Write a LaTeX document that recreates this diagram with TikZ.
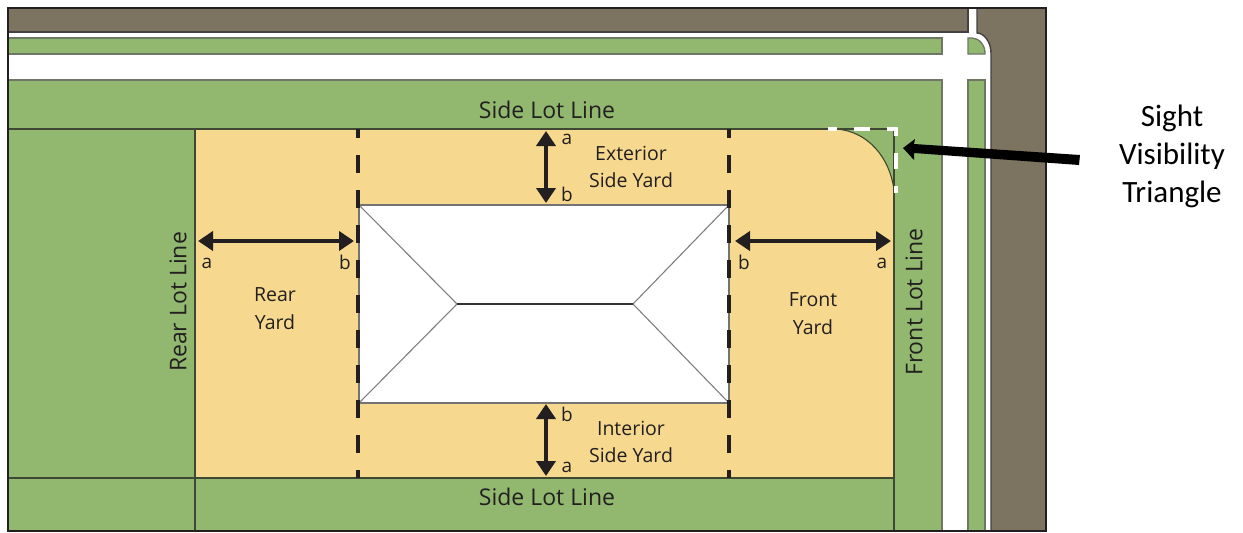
\documentclass[tikz,border=0pt]{standalone}
\usepackage{fontspec}
\setmainfont{Open Sans}
\newfontfamily\callout{Carlito}
\usetikzlibrary{arrows.meta}
\definecolor{lawn}{RGB}{145,184,110}
\definecolor{yard}{RGB}{246,217,142}
\definecolor{pave}{RGB}{124,116,97}
\definecolor{edge}{RGB}{62,72,50}
\definecolor{ink}{RGB}{35,31,32}
\tikzset{
  lawnbox/.style={fill=lawn,draw=edge!75,line width=1.3pt},
  lotline/.style={draw=edge,line width=1.2pt},
  setback/.style={draw=ink,line width=4pt,dash pattern=on 18pt off 17pt,dash phase=9pt},
  dim/.style={draw=ink,line width=4pt,{Triangle[width=19pt,length=15pt]}-{Triangle[width=19pt,length=15pt]},shorten <=0pt,shorten >=0pt},
  roofline/.style={draw=black!50,line width=1.1pt},
  bigtext/.style={font=\fontsize{23}{23}\selectfont,text=ink,inner sep=0pt},
  smalltext/.style={font=\fontsize{19.5}{19.5}\selectfont,text=ink,inner sep=0pt},
  lettertext/.style={font=\fontsize{19}{19}\selectfont,text=ink,inner sep=0pt},
  callouttext/.style={font=\callout\fontsize{31}{31}\selectfont,text=black,inner sep=0pt},
}
\begin{document}
\begin{tikzpicture}[x=1pt,y=-1pt]
\useasboundingbox (0,0) rectangle (1243,533);
\fill[white] (0,0) rectangle (1243,533);
% pavement
\fill[pave] (8,8) rectangle (968,32);
\fill[pave] (977,8) -- (1046,8) -- (1046,531) -- (991,531) -- (991,53) .. controls (991,42) and (984,33) .. (977,33) -- cycle;
\draw[draw=ink!85,line width=1.4pt] (968,8) -- (968,32) -- (8,32);
\draw[draw=ink!85,line width=1.4pt] (977,8) -- (977,33) .. controls (984,33) and (991,42) .. (991,53) -- (991,531);
% lawns
\draw[lawnbox] (8,38) rectangle (942,54);
\draw[lawnbox] (968,54) -- (968,38) -- (972,38) .. controls (979,38) and (985,45) .. (985,53) -- (985,54) -- cycle;
\draw[lawnbox] (8,80) -- (942,80) -- (942,531) -- (8,531) -- cycle;
\draw[lawnbox] (968,531) -- (968,80) -- (985,80) -- (985,531) -- cycle;
% yard
\fill[yard] (195,129) -- (836,129) .. controls (868,131) and (890,158) .. (894,190) -- (894,478) -- (195,478) -- cycle;
% triangle corner
\draw[draw=edge,line width=1.1pt] (836,129) .. controls (868,131) and (890,158) .. (894,190);
% lot lines
\draw[lotline] (8,129) -- (836,129) -- (894,129) -- (894,531);
\draw[lotline] (195,129) -- (195,531);
\draw[lotline] (8,478) -- (894,478);
% frame
\draw[draw=ink,line width=1.3pt] (8,8) rectangle (1046,531);
% white sight triangle dashes
\draw[draw=white,line width=4pt,dash pattern=on 16.5pt off 16.5pt,dash phase=7.5pt] (828,129) -- (896,129) -- (896,193);
% house
\path[fill=white,draw=black!55,line width=1.2pt] (359,205) rectangle (729,403);
\coordinate (rl) at (457,304);
\coordinate (rr) at (633,304);
\draw[roofline] (359,205) -- (rl) -- (359,403);
\draw[roofline] (729,205) -- (rr) -- (729,403);
\draw[draw=black!80,line width=1.1pt] (rl) -- (rr);
% setback lines
\draw[setback] (358,129) -- (358,478);
\draw[setback] (729,129) -- (729,478);
% dimension arrows
\coordinate (ra) at (198,241); \coordinate (rb) at (354,241);
\coordinate (fb) at (735,241); \coordinate (fa) at (891,241);
\coordinate (ea) at (546,131); \coordinate (eb) at (546,203);
\coordinate (ib) at (546,404); \coordinate (ia) at (546,476);
\draw[dim] (ra) -- (rb);
\draw[dim] (fb) -- (fa);
\draw[dim] (ea) -- (eb);
\draw[dim] (ib) -- (ia);
% callout arrow
\fill[black] (903,148) -- (915,139) -- (914,144) -- (1080,155) -- (1079,165) -- (914,153) -- (914,160) -- cycle;
% labels
\node[bigtext] (sl1) at (547,110) {Side Lot Line};
\node[bigtext] (sl2) at (547,497) {Side Lot Line};
\node[bigtext,rotate=90] (rl1) at (178,302) {Rear Lot Line};
\node[bigtext,rotate=90] (fl1) at (914,302) {Front Lot Line};
\node[smalltext] (ry1) at (275,295) {Rear};
\node[smalltext] (ry2) at (275,322) {Yard};
\node[smalltext] (fy1) at (813,300) {Front};
\node[smalltext] (fy2) at (813,327) {Yard};
\node[smalltext] (es1) at (631,153) {Exterior};
\node[smalltext] (es2) at (631,180) {Side Yard};
\node[smalltext] (is1) at (631,428) {Interior};
\node[smalltext] (is2) at (631,455) {Side Yard};
\node[lettertext] (l1) at (567,139) {a};
\node[lettertext] (l2) at (567,194) {b};
\node[lettertext] (l3) at (567,414) {b};
\node[lettertext] (l4) at (567,467) {a};
\node[lettertext] (l5) at (207,263) {a};
\node[lettertext] (l6) at (345,262) {b};
\node[lettertext] (l7) at (744,262) {b};
\node[lettertext] (l8) at (882,263) {a};
\node[callouttext] (c1) at (1172,118) {Sight};
\node[callouttext] (c2) at (1172,156) {Visibility};
\node[callouttext] (c3) at (1172,194) {Triangle};
\end{tikzpicture}
\end{document}
